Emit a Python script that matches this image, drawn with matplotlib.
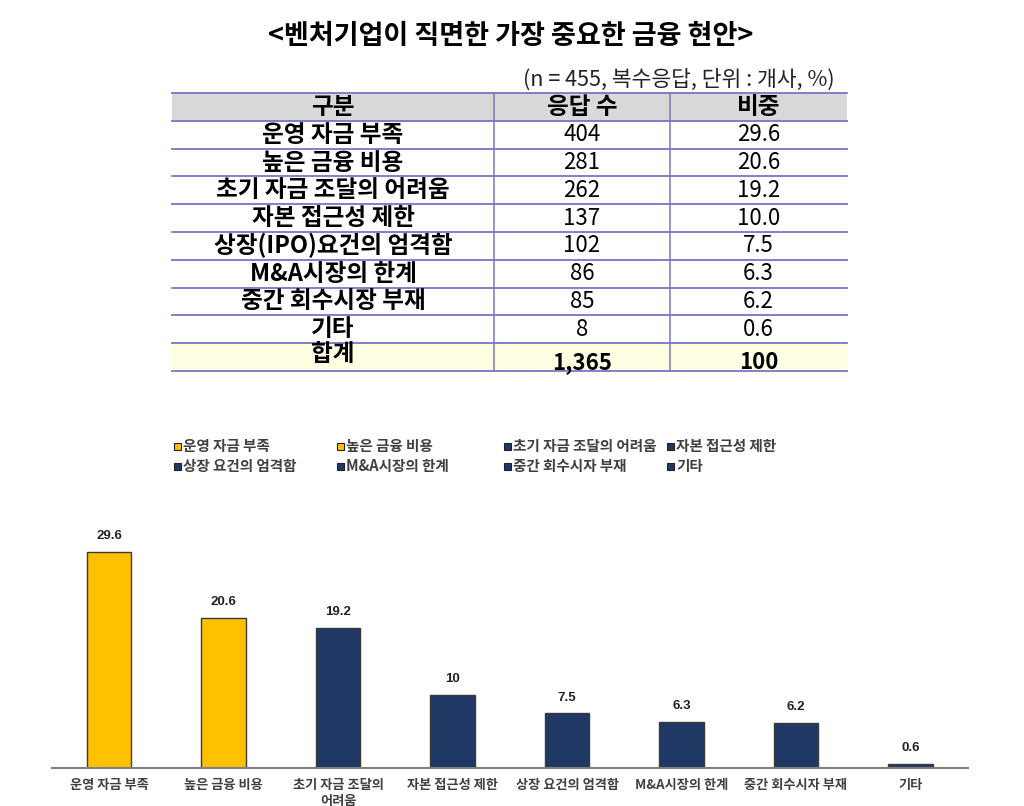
import matplotlib
matplotlib.use('Agg')
import matplotlib.pyplot as plt
from matplotlib.patches import Rectangle

plt.rcParams['font.family'] = ['Noto Sans CJK KR', 'DejaVu Sans']

# table data
table_cols = ['구분', '응답 수', '비중']
table_labels = ['운영 자금 부족', '높은 금융 비용', '초기 자금 조달의 어려움', '자본 접근성 제한',
                '상장(IPO)요건의 엄격함', 'M&A시장의 한계', '중간 회수시장 부재', '기타']
counts = [404, 281, 262, 137, 102, 86, 85, 8]
shares = ['29.6', '20.6', '19.2', '10.0', '7.5', '6.3', '6.2', '0.6']
total_row = ['합계', '1,365', '100']

# chart data
chart_labels = ['운영 자금 부족', '높은 금융 비용', '초기 자금 조달의 어려움', '자본 접근성 제한',
                '상장 요건의 엄격함', 'M&A시장의 한계', '중간 회수시자 부재', '기타']
tick_labels = ['운영 자금 부족', '높은 금융 비용', '초기 자금 조달의\n어려움', '자본 접근성 제한',
               '상장 요건의 엄격함', 'M&A시장의 한계', '중간 회수시자 부재', '기타']
values = [29.6, 20.6, 19.2, 10, 7.5, 6.3, 6.2, 0.6]
colors = ['#FFC000', '#FFC000', '#1F3864', '#1F3864', '#1F3864', '#1F3864', '#1F3864', '#1F3864']

W, H = 1024, 806
fig = plt.figure(figsize=(W / 100, H / 100), dpi=100)

# full-figure axes in pixel coords for title, table and legend
ax0 = fig.add_axes([0, 0, 1, 1])
ax0.set_xlim(0, W)
ax0.set_ylim(H, 0)
ax0.axis('off')

ax0.text(511, 36, '<벤처기업이 직면한 가장 중요한 금융 현안>', ha='center', va='center',
         fontsize=19.5, fontweight='bold', color='black')
ax0.text(835, 80, '(n = 455, 복수응답, 단위 : 개사, %)', ha='right', va='center',
         fontsize=15.5, color='#222222')

# table
x_edges = [172, 494, 670, 847]
top = 93
row_h = 27.8
n_rows = len(table_labels) + 2
line_c = '#7676c8'

ax0.add_patch(Rectangle((x_edges[0], top), x_edges[-1] - x_edges[0], row_h,
                        facecolor='#d9d9d9', edgecolor='none'))
ax0.add_patch(Rectangle((x_edges[0], top + row_h * (n_rows - 1)), x_edges[-1] - x_edges[0], row_h,
                        facecolor='#ffffe3', edgecolor='none'))
for k in range(n_rows + 1):
    y = top + row_h * k
    ax0.plot([x_edges[0], x_edges[-1]], [y, y], color=line_c, lw=1.3)
for xe in x_edges[1:-1]:
    ax0.plot([xe, xe], [top, top + row_h * n_rows], color=line_c, lw=1.1)

centers = [(x_edges[i] + x_edges[i + 1]) / 2 for i in range(3)]
for j, name in enumerate(table_cols):
    ax0.text(centers[j], top + row_h / 2, name, ha='center', va='center',
             fontsize=17, fontweight='bold')
for i, (lab, c, s) in enumerate(zip(table_labels, counts, shares)):
    yc = top + row_h * (i + 1.5)
    ax0.text(centers[0], yc, lab, ha='center', va='center', fontsize=17, fontweight='bold')
    ax0.text(centers[1], yc, str(c), ha='center', va='center', fontsize=16)
    ax0.text(centers[2], yc, s, ha='center', va='center', fontsize=16)
yc = top + row_h * (n_rows - 0.5)
ax0.text(centers[0], yc - 3, total_row[0], ha='center', va='center', fontsize=17, fontweight='bold')
ax0.text(centers[1], yc + 5, total_row[1], ha='center', va='center', fontsize=16, fontweight='bold')
ax0.text(centers[2], yc + 5, total_row[2], ha='center', va='center', fontsize=16, fontweight='bold')

# legend (manual, 4 columns)
leg_x = [177, 340, 507, 670]
leg_y = [446, 466]
for i, (lab, col) in enumerate(zip(chart_labels, colors)):
    x = leg_x[i % 4]
    y = leg_y[i // 4]
    ax0.add_patch(Rectangle((x - 3.5, y - 3.5), 7, 7, facecolor=col, edgecolor='#222222', lw=0.8))
    ax0.text(x + 6, y, lab, ha='left', va='center', fontsize=10.5, fontweight='bold', color='#404040')

# bar chart
ax = fig.add_axes([51.75 / W, 38 / H, 916 / W, 35 * 7.3 / H])
pos = list(range(len(values)))
bars = ax.bar(pos, values, width=0.385, color=colors, edgecolor='#3a3a3a', linewidth=1)
ax.bar_label(bars, labels=['%g' % v for v in values], padding=7, fontsize=9.5,
             fontweight='bold', family=['Liberation Sans', 'DejaVu Sans'], color='#222222')
ax.set_xlim(-0.5, len(values) - 0.5)
ax.set_ylim(0, 35)
ax.set_xticks(pos)
ax.set_xticklabels(tick_labels, fontsize=9.5, fontweight='bold', color='#404040', linespacing=1.2)
ax.tick_params(axis='x', length=0, pad=7)
ax.set_yticks([])
for sp in ['top', 'right', 'left']:
    ax.spines[sp].set_visible(False)
ax.spines['bottom'].set_color('#7f7f7f')
ax.spines['bottom'].set_linewidth(1.5)

fig.savefig('out.png', dpi=100)
